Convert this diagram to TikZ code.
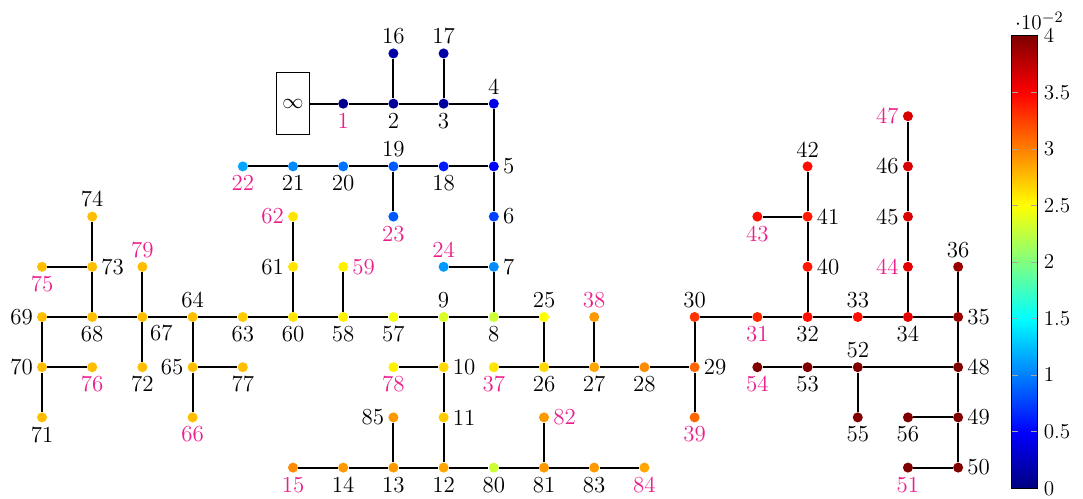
\documentclass[tikz,border=0pt]{standalone}
\usepackage{xcolor}
\definecolor{pk}{RGB}{236,30,140}
\pgfdeclareverticalshading{jetshade}{100bp}{rgb(0bp)=(0,0,0.5); rgb(25bp)=(0,0,0.5); rgb(31.25bp)=(0,0,1); rgb(43.75bp)=(0,1,1); rgb(56.25bp)=(1,1,0); rgb(68.75bp)=(1,0,0); rgb(75bp)=(0.5,0,0); rgb(100bp)=(0.5,0,0)}
\tikzset{
  bus/.code={%
    \pgfmathsetmacro\jt{2*#1}%
    \pgfmathsetmacro\jr{min(1,max(0,(\jt-3)/2))-max(0,(\jt-7)/2)}%
    \pgfmathsetmacro\jg{min(1,max(0,(\jt-1)/2))-min(1,max(0,(\jt-5)/2))}%
    \pgfmathsetmacro\jb{min(1,0.5+0.5*\jt)-min(1,max(0,(\jt-3)/2))}%
    \definecolor{busc}{rgb}{\jr,\jg,\jb}%
    \pgfkeysalso{dot}},
  dot/.style={circle, fill=busc, inner sep=0pt, minimum size=0.2cm},
  every label/.style={inner sep=2pt, font=\fontsize{13}{15.6}\selectfont},
  pl/.style={text=pk},
  line/.style={line width=1.15pt},
  src/.style={draw, line width=0.6pt, minimum width=0.66cm, minimum height=1.24cm, inner sep=0pt, font=\fontsize{13}{15.6}\selectfont},
  tick/.style={draw=gray!70, line width=0.5pt},
  tlabel/.style={anchor=west, inner sep=0pt, font=\fontsize{13}{15.6}\selectfont},
}
\newcommand\bus[6]{\node[bus={#4}, label={[#6]#5}] (n#1) at (#2,#3) {};}
\begin{document}
\begin{tikzpicture}
\useasboundingbox (-0.837,-3.625) rectangle (20.737,6.315);
% source
\node[src] (src) at (5,4.25) {$\infty$};
% buses
\bus{16}{7}{5.25}{0.15}{above:16}{}
\bus{17}{8}{5.25}{0.15}{above:17}{}
\bus{1}{6}{4.25}{0.05}{below:1}{pl}
\bus{2}{7}{4.25}{0.1}{below:2}{}
\bus{3}{8}{4.25}{0.12}{below:3}{}
\bus{4}{9}{4.25}{0.4}{above:4}{}
\bus{22}{4}{3}{1.15}{below:22}{pl}
\bus{21}{5}{3}{1.05}{below:21}{}
\bus{20}{6}{3}{0.95}{below:20}{}
\bus{19}{7}{3}{0.85}{above:19}{}
\bus{18}{8}{3}{0.6}{below:18}{}
\bus{5}{9}{3}{0.5}{right:5}{}
\bus{74}{1}{2}{2.75}{above:74}{}
\bus{62}{5}{2}{2.6}{left:62}{pl}
\bus{23}{7}{2}{0.85}{below:23}{pl}
\bus{6}{9}{2}{0.75}{right:6}{}
\bus{75}{0}{1}{2.75}{below:75}{pl}
\bus{73}{1}{1}{2.75}{right:73}{}
\bus{79}{2}{1}{2.75}{above:79}{pl}
\bus{61}{5}{1}{2.6}{left:61}{}
\bus{59}{6}{1}{2.55}{right:59}{pl}
\bus{24}{8}{1}{1.1}{above:24}{pl}
\bus{7}{9}{1}{1.05}{right:7}{}
\bus{69}{0}{0}{2.75}{left:69}{}
\bus{68}{1}{0}{2.75}{below:68}{}
\bus{67}{2}{0}{2.75}{below right:67}{}
\bus{64}{3}{0}{2.75}{above:64}{}
\bus{63}{4}{0}{2.7}{below:63}{}
\bus{60}{5}{0}{2.6}{below:60}{}
\bus{58}{6}{0}{2.55}{below:58}{}
\bus{57}{7}{0}{2.45}{below:57}{}
\bus{9}{8}{0}{2.35}{above:9}{}
\bus{8}{9}{0}{2.3}{below:8}{}
\bus{25}{10}{0}{2.5}{above:25}{}
\bus{38}{11}{0}{2.9}{above:38}{pl}
\bus{30}{13}{0}{3.3}{above:30}{}
\bus{31}{14.25}{0}{3.35}{below:31}{pl}
\bus{32}{15.25}{0}{3.45}{below:32}{}
\bus{33}{16.25}{0}{3.45}{above:33}{}
\bus{34}{17.25}{0}{3.6}{below:34}{}
\bus{35}{18.25}{0}{3.9}{right:35}{}
\bus{40}{15.25}{1}{3.4}{right:40}{}
\bus{41}{15.25}{2}{3.4}{right:41}{}
\bus{42}{15.25}{3}{3.45}{above:42}{}
\bus{43}{14.25}{2}{3.45}{below:43}{pl}
\bus{44}{17.25}{1}{3.6}{left:44}{pl}
\bus{45}{17.25}{2}{3.65}{left:45}{}
\bus{46}{17.25}{3}{3.65}{left:46}{}
\bus{47}{17.25}{4}{3.65}{left:47}{pl}
\bus{36}{18.25}{1}{3.9}{above:36}{}
\bus{70}{0}{-1}{2.75}{left:70}{}
\bus{76}{1}{-1}{2.75}{below:76}{pl}
\bus{72}{2}{-1}{2.75}{below:72}{}
\bus{65}{3}{-1}{2.75}{left:65}{}
\bus{77}{4}{-1}{2.75}{below:77}{}
\bus{78}{7}{-1}{2.55}{below:78}{pl}
\bus{10}{8}{-1}{2.65}{right:10}{}
\bus{37}{9}{-1}{2.6}{below:37}{pl}
\bus{26}{10}{-1}{2.65}{below:26}{}
\bus{27}{11}{-1}{2.85}{below:27}{}
\bus{28}{12}{-1}{2.95}{below:28}{}
\bus{29}{13}{-1}{3.1}{right:29}{}
\bus{54}{14.25}{-1}{4}{below:54}{pl}
\bus{53}{15.25}{-1}{4}{below:53}{}
\bus{52}{16.25}{-1}{4}{above:52}{}
\bus{48}{18.25}{-1}{4}{right:48}{}
\bus{71}{0}{-2}{2.75}{below:71}{}
\bus{66}{3}{-2}{2.75}{below:66}{pl}
\bus{85}{7}{-2}{2.9}{left:85}{}
\bus{11}{8}{-2}{2.7}{right:11}{}
\bus{82}{10}{-2}{2.9}{right:82}{pl}
\bus{39}{13}{-2}{3.1}{below:39}{pl}
\bus{55}{16.25}{-2}{4}{below:55}{}
\bus{56}{17.25}{-2}{4}{below:56}{}
\bus{49}{18.25}{-2}{4}{right:49}{}
\bus{15}{5}{-3}{2.95}{below:15}{pl}
\bus{14}{6}{-3}{2.9}{below:14}{}
\bus{13}{7}{-3}{2.9}{below:13}{}
\bus{12}{8}{-3}{2.85}{below:12}{}
\bus{80}{9}{-3}{2.3}{below:80}{}
\bus{81}{10}{-3}{2.9}{below:81}{}
\bus{83}{11}{-3}{2.9}{below:83}{}
\bus{84}{12}{-3}{2.85}{below:84}{pl}
\bus{51}{17.25}{-3}{4}{below:51}{pl}
\bus{50}{18.25}{-3}{4}{right:50}{}
% lines
\foreach \a/\b in {src/n1,n1/n2,n2/n3,n3/n4,n2/n16,n3/n17,n4/n5,n5/n18,n18/n19,n19/n20,n20/n21,n21/n22,n19/n23,
  n5/n6,n6/n7,n7/n24,n7/n8,n8/n9,n8/n25,n25/n26,n9/n57,n57/n58,n58/n59,n58/n60,n60/n61,n61/n62,n60/n63,n63/n64,
  n64/n67,n64/n65,n65/n77,n65/n66,n67/n68,n67/n79,n67/n72,n68/n73,n73/n74,n73/n75,n68/n69,n69/n70,n70/n76,n70/n71,
  n9/n10,n10/n78,n10/n11,n11/n12,n12/n13,n13/n14,n14/n15,n13/n85,n12/n80,n80/n81,n81/n82,n81/n83,n83/n84,
  n26/n37,n26/n27,n27/n38,n27/n28,n28/n29,n29/n30,n29/n39,n30/n31,n31/n32,n32/n40,n40/n41,n41/n42,n41/n43,
  n32/n33,n33/n34,n34/n44,n44/n45,n45/n46,n46/n47,n34/n35,n35/n36,n35/n48,n48/n52,n52/n53,n53/n54,n52/n55,
  n48/n49,n49/n56,n49/n50,n50/n51}
  \draw[line] (\a) -- (\b);
% colorbar
\node[draw, line width=0.5pt, shading=jetshade, minimum width=0.5cm, minimum height=9.01cm, inner sep=0pt] (cbar) at (19.57,1.095) {};
\foreach \i/\l in {0/0,1/0.5,2/1,3/1.5,4/2,5/2.5,6/3,7/3.5,8/4} {
  \pgfmathsetmacro\yy{-3.41+1.12625*\i}
  \ifnum\i>0 \ifnum\i<8
  \draw[tick] (19.32,\yy) -- ++(0.12,0);
  \draw[tick] (19.82,\yy) -- ++(-0.12,0);
  \fi\fi
  \node[tlabel] (cl\i) at (19.95,\yy) {$\l$};
}
\node[anchor=base west, inner sep=0pt, font=\fontsize{13}{15.6}\selectfont] (cexp) at (19.38,5.72) {$\cdot 10^{-2}$};
\end{tikzpicture}
\end{document}
